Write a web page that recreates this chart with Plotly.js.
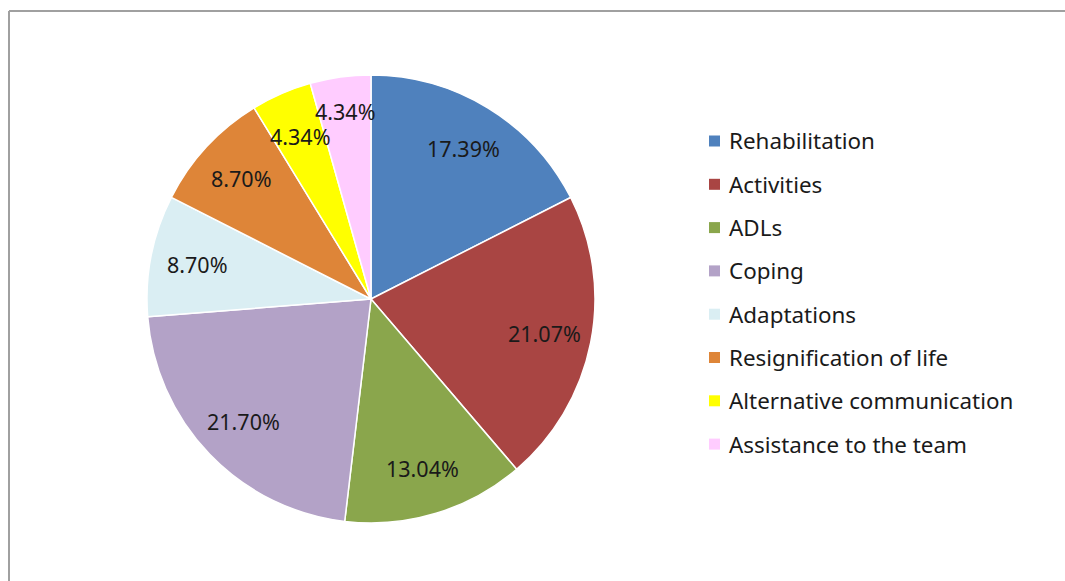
<!DOCTYPE html>
<html>
<head>
<meta charset="utf-8">
<script src="https://cdn.plot.ly/plotly-3.0.1.min.js"></script>
<style>html,body{margin:0;padding:0;background:#fff;}#chart{width:1065px;height:581px;}</style>
</head>
<body>
<div id="chart"></div>
<script>
const categories = ["Rehabilitation","Activities","ADLs","Coping","Adaptations","Resignification of life","Alternative communication","Assistance to the team"];
const values = [17.39, 21.07, 13.04, 21.70, 8.70, 8.70, 4.34, 4.34];
const valueLabels = ["17.39%","21.07%","13.04%","21.70%","8.70%","8.70%","4.34%","4.34%"];
const colors = ["#4F81BD","#A94543","#8AA64C","#B3A2C7","#DAEEF3","#DE8538","#FFFF00","#FFCCFF"];

const W = 1065, H = 581;
const cx = 371, cy = 299, R = 224;
const font = "Noto Sans, Open Sans, sans-serif";
const fsize = 21.5;
const lsize = 22.4;

const trace = {
  type: "pie",
  labels: categories,
  values: values,
  sort: false,
  direction: "clockwise",
  rotation: 0,
  marker: {colors: colors, line: {color: "#ffffff", width: 1.5}},
  textinfo: "none",
  hoverinfo: "label+percent",
  showlegend: false,
  domain: {x: [(cx - R) / W, (cx + R) / W], y: [(H - cy - R) / H, (H - cy + R) / H]}
};

const total = values.reduce((a, b) => a + b, 0);
const annotations = [];
const shapes = [];
const boxes = [];
let cum = 0;
values.forEach((v, i) => {
  const mid = (cum + v / 2) / total * 2 * Math.PI;
  cum += v;
  const bw = valueLabels[i].length * 0.56 * fsize, bh = fsize * 1.1;
  let rf = 0.79 * R, px, py;
  for (let k = 0; k < 40; k++) {
    px = cx + rf * Math.sin(mid);
    py = cy - rf * Math.cos(mid);
    const hit = boxes.some(b => Math.abs(b.x - px) < (b.w + bw) / 2 && Math.abs(b.y - py) < (b.h + bh) / 2);
    if (!hit) break;
    rf += 2;
  }
  boxes.push({x: px, y: py, w: bw, h: bh});
  annotations.push({
    xref: "paper", yref: "paper", x: px / W, y: 1 - py / H,
    text: valueLabels[i], showarrow: false,
    font: {family: font, size: fsize, color: "#1a1a1a"},
    xanchor: "center", yanchor: "middle"
  });
});

// custom legend
const lx = 709, ly0 = 141, dy = 43.3, sq = 11;
categories.forEach((c, i) => {
  const y = ly0 + i * dy;
  shapes.push({
    type: "rect", xref: "paper", yref: "paper",
    x0: lx / W, x1: (lx + sq) / W, y0: 1 - (y + sq / 2) / H, y1: 1 - (y - sq / 2) / H,
    fillcolor: colors[i], line: {width: 0}
  });
  annotations.push({
    xref: "paper", yref: "paper", x: 727 / W, y: 1 - y / H,
    text: c, showarrow: false, xanchor: "left", yanchor: "middle",
    font: {family: font, size: lsize, color: "#1a1a1a"}
  });
});

// frame
shapes.push({type: "line", xref: "paper", yref: "paper", x0: 9 / W, x1: 9 / W, y0: 0, y1: 1 - 11 / H, line: {color: "#a0a0a0", width: 2}});
shapes.push({type: "line", xref: "paper", yref: "paper", x0: 9 / W, x1: 1, y0: 1 - 11 / H, y1: 1 - 11 / H, line: {color: "#a0a0a0", width: 2}});

const layout = {
  width: W, height: H,
  margin: {l: 0, r: 0, t: 0, b: 0},
  paper_bgcolor: "#ffffff",
  showlegend: false,
  annotations: annotations,
  shapes: shapes
};

Plotly.newPlot("chart", [trace], layout, {displayModeBar: false, staticPlot: true});
</script>
</body>
</html>
